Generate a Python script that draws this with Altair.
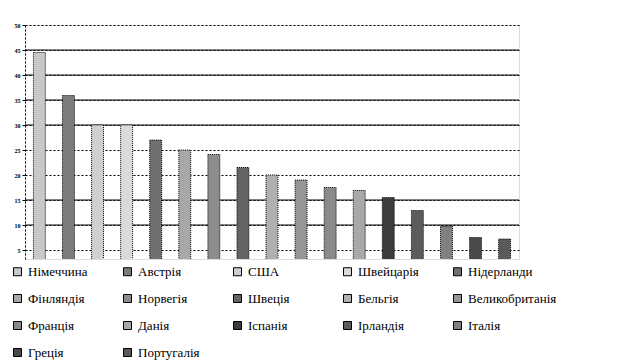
import altair as alt
import pandas as pd

countries = ["Німеччина", "Австрія", "США", "Швейцарія", "Нідерланди",
             "Фінляндія", "Норвегія", "Швеція", "Бельгія", "Великобританія",
             "Франція", "Данія", "Іспанія", "Ірландія", "Італія",
             "Греція", "Португалія"]
values = [44.5, 35.9, 30.0, 30.0, 27.0, 25.0, 24.1, 21.5, 20.0, 19.0,
          17.5, 16.9, 15.5, 12.9, 9.8, 7.5, 7.2]
y_ticks = [5, 10, 15, 20, 25, 30, 35, 40, 45, 50]
solid_grid = [45, 40, 35, 30, 15, 10]
palette = ["#c8c8c8", "#7c7c7c", "#d0d0d0", "#dadada", "#707070",
           "#a8a8a8", "#8c8c8c", "#646464", "#b0b0b0", "#969696",
           "#8a8a8a", "#a8a8a8", "#3c3c3c", "#5c5c5c", "#808080",
           "#4a4a4a", "#5a5a5a"]

serif = "Liberation Serif"

df = pd.DataFrame({"country": countries, "value": values})
grid_df = pd.DataFrame({"v": solid_grid})

yscale = alt.Scale(domain=[3.2, 50], nice=False, zero=False)
yaxis = alt.Axis(values=y_ticks, grid=True, gridDash=[2, 2],
                 gridColor="black", gridOpacity=1,
                 domainDash=[2, 2], domainColor="black",
                 tickColor="black", tickSize=3,
                 labelFontSize=6, labelFont=serif,
                 labelColor="black", labelFontWeight="bold",
                 labelOverlap=False, labelFlush=False,
                 labelPadding=2, title=None)

rules = alt.Chart(grid_df).mark_rule(color="black", strokeWidth=1).encode(
    y=alt.Y("v:Q", scale=yscale, axis=yaxis)
)

bars = alt.Chart(df).mark_bar(
    stroke="black", strokeWidth=1, strokeDash=[1, 1], clip=True
).encode(
    x=alt.X("country:N", sort=countries,
            scale=alt.Scale(paddingInner=0.59, paddingOuter=0.29), axis=None),
    y=alt.Y("value:Q", scale=yscale, axis=yaxis),
    color=alt.Color("country:N", sort=countries,
                    scale=alt.Scale(domain=countries, range=palette),
                    legend=alt.Legend(
                        orient="none", legendX=-14, legendY=240,
                        direction="horizontal", columns=5, gridAlign="all",
                        symbolType="square", symbolSize=64,
                        symbolStrokeColor="black", symbolStrokeWidth=1,
                        symbolOpacity=1,
                        labelFont=serif, labelFontSize=13,
                        labelColor="black", labelOffset=4, labelLimit=300,
                        columnPadding=4, rowPadding=13, title=None))
)

chart = alt.layer(rules, bars).properties(
    width=494, height=234,
    autosize=alt.AutoSizeParams(type="none"),
    padding={"left": 17, "top": 17, "right": 90, "bottom": 110}
).configure_view(stroke=None).configure(background="white")

chart.save("out.html", embed_options={"renderer": "svg", "actions": False})
